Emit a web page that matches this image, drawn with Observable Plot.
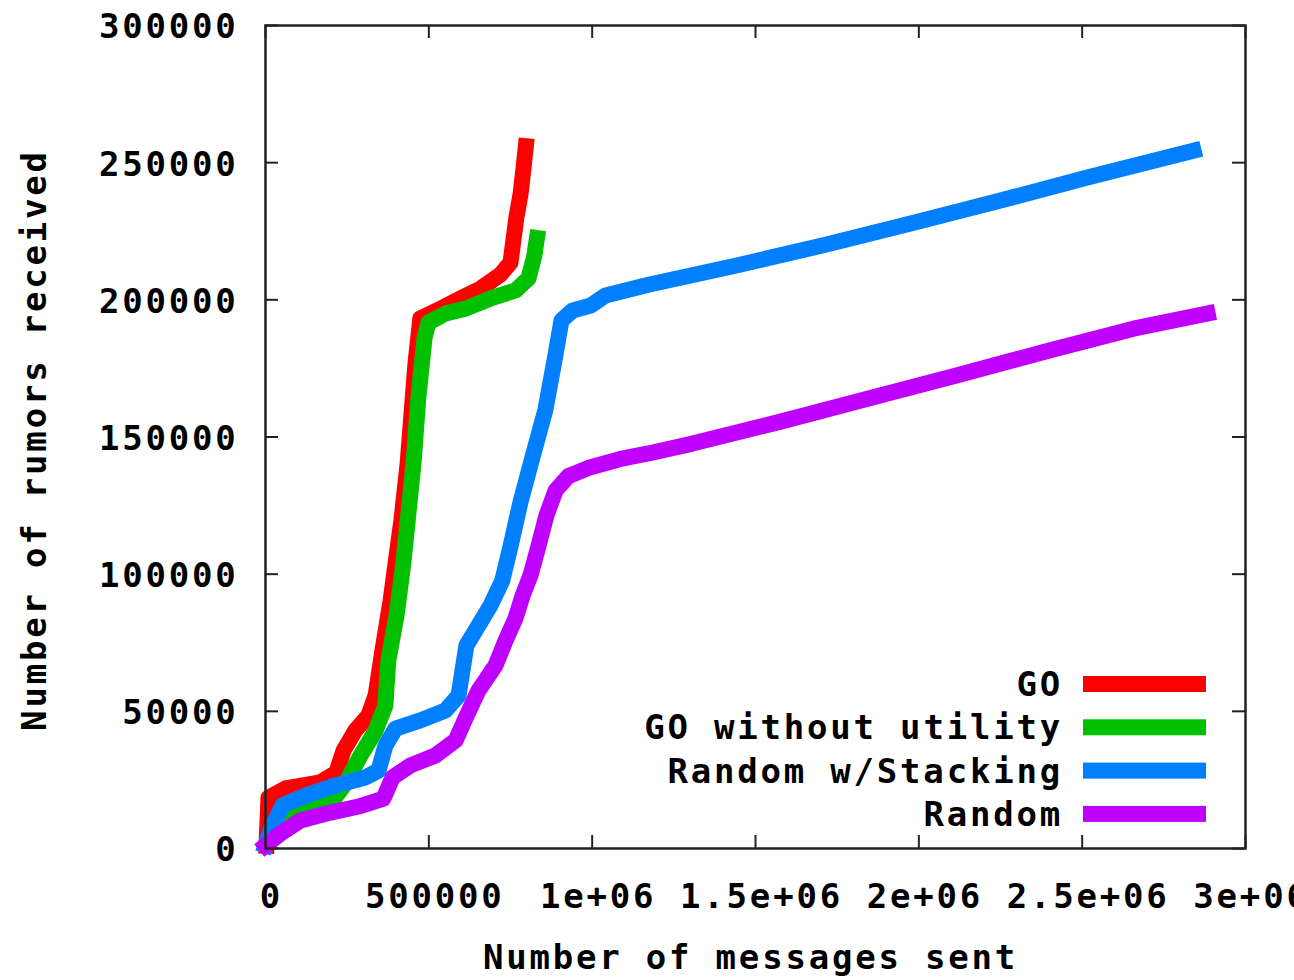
<!DOCTYPE html>
<html>
<head>
<meta charset="utf-8">
<script src="https://cdn.jsdelivr.net/npm/d3@7"></script>
<script src="https://cdn.jsdelivr.net/npm/@observablehq/plot@0.6"></script>
<style>
  html, body { margin: 0; padding: 0; background: #fff; overflow: hidden; }
</style>
</head>
<body>
<div id="chart"></div>
<script>
// ---- tick values and labels ----
const xTicks = [0, 500000, 1000000, 1500000, 2000000, 2500000, 3000000];
const xTickLabels = ["0", "500000", "1e+06", "1.5e+06", "2e+06", "2.5e+06", "3e+06"];
const yTicks = [0, 50000, 100000, 150000, 200000, 250000, 300000];
const yTickLabels = ["0", "50000", "100000", "150000", "200000", "250000", "300000"];

const xTitle = "Number of messages sent";
const yTitle = "Number of rumors received";

// ---- series names and colours (legend order = draw order) ----
const seriesNames = ["GO", "GO without utility", "Random w/Stacking", "Random"];
const seriesColors = ["#ff0000", "#00c000", "#0080ff", "#c000ff"];

// ---- series values [messages sent, rumors received] ----
const goData = [
  [3000, 1000], [9000, 18500], [61000, 21900], [168000, 24100], [217000, 27700],
  [239000, 35700], [275000, 43000], [315000, 48500], [337000, 55800], [358000, 72200],
  [383000, 90400], [398000, 103900], [416000, 119600], [435000, 140300], [459000, 176800],
  [474000, 193200], [536000, 196800], [597000, 200500], [658000, 204100], [719000, 209200],
  [750000, 213600], [768000, 230000], [781000, 238700], [790000, 248200], [797000, 256000]
];
const goNoUtilData = [
  [6000, 2200], [46000, 8400], [107000, 13100], [199000, 16400], [245000, 23700],
  [291000, 33900], [337000, 43000], [367000, 52100], [376000, 68500], [401000, 84900],
  [422000, 103900], [453000, 140300], [468000, 164400], [487000, 186300], [499000, 191700],
  [551000, 195000], [612000, 196800], [689000, 200500], [765000, 203400], [805000, 207800],
  [823000, 216100], [831000, 222500]
];
const randomStackData = [
  [0, 1100], [15000, 6600], [52000, 15700], [122000, 19300], [214000, 23000],
  [306000, 25900], [346000, 28400], [367000, 37500], [398000, 43700], [474000, 46700],
  [551000, 50300], [591000, 55800], [603000, 64900], [615000, 74000], [643000, 79500],
  [689000, 88600], [725000, 97700], [750000, 110100], [781000, 126500], [817000, 142500],
  [857000, 160000], [888000, 180100], [906000, 192500], [940000, 196100], [995000, 197900],
  [1041000, 201600], [1172000, 205500], [1442000, 212500], [1711000, 220000], [1981000, 228000],
  [2250000, 236200], [2522000, 244800], [2841000, 254400]
];
const randomData = [
  [0, 1100], [46000, 5500], [107000, 10200], [199000, 13100], [285000, 15300],
  [361000, 18200], [389000, 25900], [444000, 30300], [520000, 33900], [582000, 39400],
  [612000, 47400], [652000, 57600], [704000, 66700], [735000, 75800], [765000, 83800],
  [787000, 92200], [811000, 99500], [836000, 110400], [860000, 121400], [888000, 130500],
  [928000, 135800], [995000, 139000], [1087000, 142000], [1172000, 144000], [1307000, 147600],
  [1577000, 155600], [1846000, 164000], [2115000, 172400], [2388000, 181200], [2657000, 189500],
  [2884000, 195000]
];

const allSeries = [goData, goNoUtilData, randomStackData, randomData];

const fontSize = 34;
const frameW = 1294 - 265 - 49;
const frameH = 980 - 25 - 132;
const tickLen = 13;

const lineMarks = allSeries.map((pts, i) =>
  Plot.line(pts, {
    x: d => d[0], y: d => d[1],
    stroke: seriesColors[i], strokeWidth: 16,
    strokeLinecap: "square", strokeLinejoin: "round", clip: false
  })
);

const chart = Plot.plot({
  width: 1294,
  height: 980,
  marginLeft: 265,
  marginRight: 49,
  marginTop: 25,
  marginBottom: 132,
  x: {domain: [0, 3000000], axis: null},
  y: {domain: [0, 300000], axis: null},
  style: {
    fontFamily: "'DejaVu Sans Mono', 'Liberation Mono', monospace",
    fontWeight: "bold",
    letterSpacing: "2.8px",
    color: "#000",
    background: "#fff",
    overflow: "hidden"
  },
  marks: [
    // inward ticks on all four sides
    Plot.tickX(xTicks, {x: d => d, insetTop: frameH - tickLen, stroke: "#222", strokeWidth: 2}),
    Plot.tickX(xTicks, {x: d => d, insetBottom: frameH - tickLen, stroke: "#222", strokeWidth: 2}),
    Plot.tickY(yTicks, {y: d => d, insetRight: frameW - tickLen, stroke: "#222", strokeWidth: 2}),
    Plot.tickY(yTicks, {y: d => d, insetLeft: frameW - tickLen, stroke: "#222", strokeWidth: 2}),
    ...lineMarks,
    Plot.frame({stroke: "#222", strokeWidth: 2.5}),
    // tick labels
    Plot.text(xTicks, {
      x: d => d, text: (d, i) => xTickLabels[i],
      frameAnchor: "bottom", lineAnchor: "middle", textAnchor: "middle",
      dy: 49, dx: 6, fontSize, fill: "#000"
    }),
    Plot.text(yTicks, {
      y: d => d, text: (d, i) => yTickLabels[i],
      frameAnchor: "left", textAnchor: "end", lineAnchor: "middle",
      dx: -27, dy: 2, fontSize, fill: "#000"
    }),
    // axis titles
    Plot.text([xTitle], {
      text: d => d, frameAnchor: "bottom", lineAnchor: "middle", textAnchor: "middle",
      dy: 110, dx: -5, fontSize, fill: "#000"
    }),
    Plot.text([yTitle], {
      text: d => d, frameAnchor: "left", textAnchor: "middle", lineAnchor: "middle",
      rotate: -90, dx: -230, dy: 3, fontSize, fill: "#000"
    })
  ]
});

document.getElementById("chart").appendChild(chart);

// legend (inside plot, lower right)
const svg = d3.select(chart);
const leg = svg.append("g").attr("class", "legend");
seriesNames.forEach((name, i) => {
  const cy = 684 + i * 43.3;
  leg.append("text")
    .attr("x", 1063).attr("y", cy)
    .attr("text-anchor", "end")
    .attr("dominant-baseline", "central")
    .attr("font-size", fontSize)
    .attr("fill", "#000")
    .text(name);
  leg.append("rect")
    .attr("x", 1083).attr("y", cy - 8)
    .attr("width", 123).attr("height", 16)
    .attr("fill", seriesColors[i]);
});
</script>
</body>
</html>
